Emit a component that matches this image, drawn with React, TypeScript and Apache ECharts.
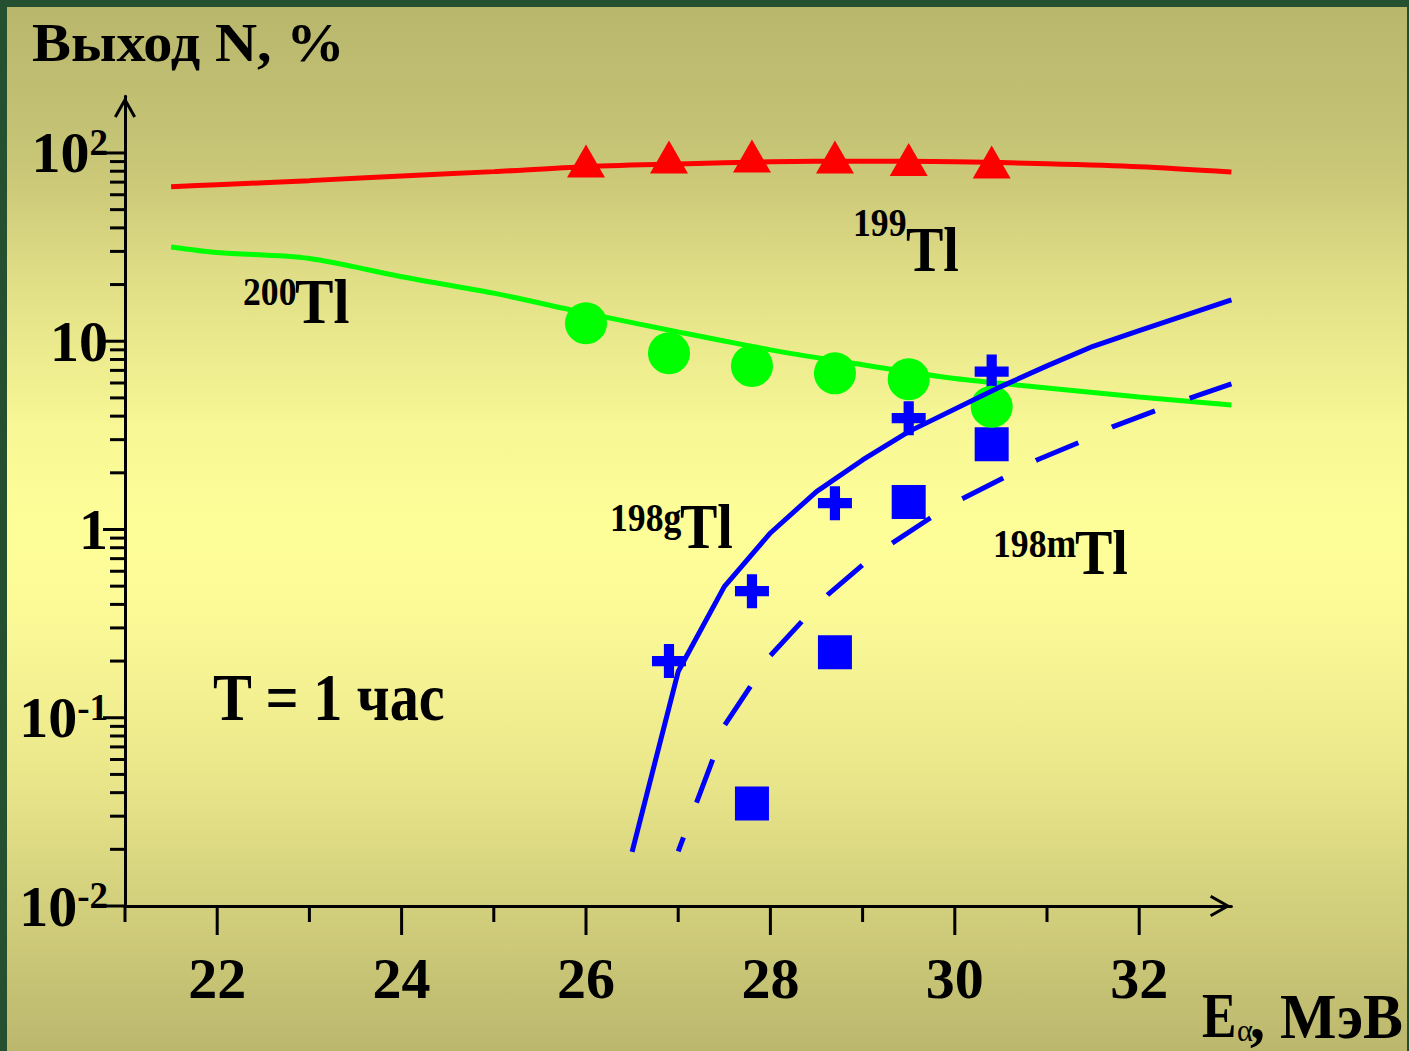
import React, { useEffect, useRef } from 'react';
import * as echarts from 'echarts';

const FONT = "'Liberation Serif', 'Times New Roman', serif";

// axes
const xMin = 21;
const xMax = 33;
const yMin = 0.01;
const yMax = 200;
const xLabelValues = [22, 24, 26, 28, 30, 32];
const xMajorTicks = [22, 24, 26, 28, 30, 32];
const xMinorTicks = [21, 23, 25, 27, 29, 31];
const yMajorTicks = [0.01, 0.1, 1, 10, 100];
const yMajorTickLabels = ['10^-2', '10^-1', '1', '10', '10^2'];
const yMinorTicks = [
  0.02, 0.03, 0.04, 0.05, 0.06, 0.07, 0.08, 0.09,
  0.2, 0.3, 0.4, 0.5, 0.6, 0.7, 0.8, 0.9,
  2, 3, 4, 5, 6, 7, 8, 9,
  20, 30, 40, 50, 60, 70, 80, 90,
];

// 199Tl
const tl199CurveE = [21.5, 22, 23, 24, 25, 26, 27, 28, 29, 30, 31, 32, 33];
const tl199CurveN = [66.2, 67.8, 71.3, 75.4, 79.6, 84.5, 87.5, 89.8, 90.5, 89.8, 87.7, 84.6, 79.3];
const tl199PointE = [26.0, 26.9, 27.8, 28.7, 29.5, 30.4];
const tl199PointN = [90.7, 95.2, 96.4, 95.2, 92.4, 89.6];

// 200Tl
const tl200CurveE = [21.5, 22, 23, 24, 25, 26, 27, 28, 29, 30, 31, 32, 33];
const tl200CurveN = [31.7, 29.6, 27.5, 22.0, 18.0, 14.1, 11.2, 9.0, 7.5, 6.34, 5.65, 5.06, 4.59];
const tl200PointE = [26.0, 26.9, 27.8, 28.7, 29.5, 30.4];
const tl200PointN = [12.46, 8.63, 7.39, 6.75, 6.28, 4.49];

// 198gTl
const tl198gCurveE = [26.5, 27.0, 27.5, 28.0, 28.5, 29.0, 29.5, 30.5, 31.0, 31.5, 32.0, 33.0];
const tl198gCurveN = [0.0194, 0.176, 0.497, 0.958, 1.59, 2.34, 3.31, 5.74, 7.4, 9.4, 11.4, 16.6];
const tl198gPointE = [26.9, 27.8, 28.7, 29.5, 30.4];
const tl198gPointN = [0.2, 0.47, 1.38, 3.9, 6.9];

// 198mTl
const tl198mCurveE = [27.0, 27.37, 27.5, 27.78, 28.0, 28.34, 28.62, 29.0, 29.32, 29.73, 30.07, 30.53, 30.89, 31.34, 31.71, 32.18, 32.55, 33.0];
const tl198mCurveN = [0.0195, 0.0591, 0.0908, 0.146, 0.214, 0.324, 0.449, 0.648, 0.845, 1.147, 1.446, 1.884, 2.34, 2.89, 3.51, 4.28, 4.98, 5.93];
const tl198mPointE = [27.8, 28.7, 29.5, 30.4];
const tl198mPointN = [0.035, 0.223, 1.4, 2.84];

const zip = (xs: number[], ys: number[]) => xs.map((x, i) => [x, ys[i]]);

const PLUS = 'path://M3.5,0H6.5V3.5H10V6.5H6.5V10H3.5V6.5H0V3.5H3.5Z';
const CHEVRON = 'path://M11,0L22,19.5L19.4,21L11,6L2.6,21L0,19.5Z';

const txt = (
  text: string,
  x: number,
  y: number,
  fontSize: number,
  fontWeight: string,
  scaleX: number
) => ({
  type: 'text',
  x,
  y,
  scaleX,
  silent: true,
  z: 10,
  style: {
    text,
    fontSize,
    fontFamily: FONT,
    fontWeight,
    fill: '#000',
    align: 'left',
    verticalAlign: 'middle',
    textAlign: 'left',
    textVerticalAlign: 'middle',
  },
});

const yLabelFormatter = (value: number) => {
  const i = yMajorTicks.findIndex((t) => Math.abs(Math.log10(t) - Math.log10(value)) < 1e-6);
  if (i < 0) return '';
  const [m, e] = yMajorTickLabels[i].split('^');
  return e ? `{b|${m}}{s|${e}}` : `{b|${m}}`;
};

const tickRender = (dir: 'x' | 'y') => (params: any, api: any) => {
  const p = api.coord([api.value(0), api.value(1)]);
  const len = api.value(2);
  const shape =
    dir === 'y'
      ? { x1: p[0] - len, y1: p[1], x2: p[0], y2: p[1] }
      : { x1: p[0], y1: p[1], x2: p[0], y2: p[1] + len };
  return { type: 'line', shape, style: { stroke: '#000', lineWidth: 3 } };
};

export default function App() {
  const ref = useRef<HTMLDivElement>(null);

  useEffect(() => {
    document.body.style.margin = '0';
    if (!ref.current) return;
    const chart = echarts.init(ref.current, null, { renderer: 'svg' });

    const option: any = {
      animation: false,
      backgroundColor: 'transparent',
      grid: { left: 125, right: 177.6, top: 96.3, bottom: 145, containLabel: false, outerBoundsMode: 'none' },
      xAxis: {
        type: 'value',
        min: xMin,
        max: xMax,
        interval: 1,
        splitLine: { show: false },
        axisTick: { show: false },
        axisLine: {
          show: true,
          lineStyle: { color: '#000', width: 3 },
          symbol: ['none', CHEVRON],
          symbolSize: [22, 22],
          symbolOffset: [0, -11],
        },
        axisLabel: {
          margin: 43,
          fontFamily: FONT,
          fontWeight: 'bold',
          fontSize: 58,
          color: '#000',
          formatter: (v: number) => (xLabelValues.includes(v) ? String(v) : ''),
        },
      },
      yAxis: {
        type: 'log',
        logBase: 10,
        min: yMin,
        max: yMax,
        splitNumber: 5,
        splitLine: { show: false },
        axisTick: { show: false },
        axisLine: {
          show: true,
          lineStyle: { color: '#000', width: 3 },
          symbol: ['none', CHEVRON],
          symbolSize: [22, 22],
          symbolOffset: [0, -11],
        },
        axisLabel: {
          margin: 17,
          fontFamily: FONT,
          fontWeight: 'bold',
          fontSize: 58,
          color: '#000',
          formatter: yLabelFormatter,
          rich: {
            b: { fontFamily: FONT, fontWeight: 'bold', fontSize: 58, lineHeight: 58, color: '#000' },
            s: { fontFamily: FONT, fontWeight: 'bold', fontSize: 37, lineHeight: 44, color: '#000', verticalAlign: 'top' },
          },
        },
      },
      graphic: [
        txt('Выход N, %', 32, 42.5, 54, 'bold', 1.08),
        txt('T = 1 час', 213, 697.5, 67, 'bold', 0.87),
        txt('199', 853, 222, 41, 'bold', 0.87),
        txt('Tl', 906, 249.5, 64, 'bold', 0.875),
        txt('200', 243, 291, 41, 'bold', 0.87),
        txt('Tl', 295, 301, 64, 'bold', 0.9),
        txt('198g', 610, 517, 41, 'bold', 0.87),
        txt('Tl', 680, 526.5, 64, 'bold', 0.875),
        txt('198m', 993, 543.5, 41, 'bold', 0.87),
        txt('Tl', 1075, 552.5, 64, 'bold', 0.875),
        txt('E', 1202, 1016, 63, 'bold', 0.82),
        txt('α', 1237, 1030, 32, 'normal', 0.95),
        txt(', МэВ', 1250, 1016, 63, 'bold', 0.95),
      ],
      series: [
        {
          name: '199Tl calc',
          type: 'line',
          data: zip(tl199CurveE, tl199CurveN),
          smooth: 0.3,
          symbol: 'none',
          lineStyle: { color: '#FF0000', width: 5 },
          z: 2,
        },
        {
          name: '199Tl exp',
          type: 'scatter',
          data: zip(tl199PointE, tl199PointN),
          symbol: 'triangle',
          symbolSize: [38, 33],
          itemStyle: { color: '#FF0000', opacity: 1 },
          z: 3,
        },
        {
          name: '200Tl calc',
          type: 'line',
          data: zip(tl200CurveE, tl200CurveN),
          smooth: 0.3,
          symbol: 'none',
          lineStyle: { color: '#00FF00', width: 5 },
          z: 2,
        },
        {
          name: '198gTl exp',
          type: 'scatter',
          data: zip(tl198gPointE, tl198gPointN),
          symbol: PLUS,
          symbolSize: 34,
          itemStyle: { color: '#0000FF', opacity: 1 },
          z: 3,
        },
        {
          name: '198mTl exp',
          type: 'scatter',
          data: zip(tl198mPointE, tl198mPointN),
          symbol: 'rect',
          symbolSize: 34,
          itemStyle: { color: '#0000FF', opacity: 1 },
          z: 3,
        },
        {
          name: '200Tl exp',
          type: 'scatter',
          data: zip(tl200PointE, tl200PointN),
          symbol: 'circle',
          symbolSize: 42,
          itemStyle: { color: '#00FF00', opacity: 1 },
          z: 4,
        },
        {
          name: '198gTl calc',
          type: 'line',
          data: zip(tl198gCurveE, tl198gCurveN),
          smooth: false,
          symbol: 'none',
          lineStyle: { color: '#0000FF', width: 5 },
          z: 5,
        },
        {
          name: '198mTl calc',
          type: 'line',
          data: zip(tl198mCurveE, tl198mCurveN),
          smooth: false,
          symbol: 'none',
          lineStyle: { color: '#0000FF', width: 5, type: [46, 37], dashOffset: 31 },
          z: 5,
        },
        {
          name: 'yTicks',
          type: 'custom',
          coordinateSystem: 'cartesian2d',
          clip: false,
          silent: true,
          z: 6,
          data: [
            ...yMajorTicks.map((v) => [xMin, v, 22]),
            ...yMinorTicks.map((v) => [xMin, v, 15]),
          ],
          renderItem: tickRender('y'),
        },
        {
          name: 'xTicks',
          type: 'custom',
          coordinateSystem: 'cartesian2d',
          clip: false,
          silent: true,
          z: 6,
          data: [
            ...xMajorTicks.map((v) => [v, yMin, 29]),
            ...xMinorTicks.map((v) => [v, yMin, 16]),
          ],
          renderItem: tickRender('x'),
        },
      ],
    };

    chart.setOption(option);
    return () => chart.dispose();
  }, []);

  return (
    <div
      style={{
        position: 'relative',
        width: 1409,
        height: 1051,
        overflow: 'hidden',
        background: '#24502F',
      }}
    >
      <div
        style={{
          position: 'absolute',
          left: 7,
          top: 7,
          right: 2,
          bottom: 0,
          background:
            'linear-gradient(to bottom, #B9B76C 0%, #C4C274 12%, #CFCD7B 18.5%, #E2E087 27%, #F7F795 40%, #FEFE99 50%, #FBFA97 58%, #ECE98C 72%, #D6D37F 84%, #BBB76D 100%)',
        }}
      />
      <div ref={ref} style={{ position: 'absolute', left: 0, top: 0, width: 1409, height: 1051 }} />
    </div>
  );
}
